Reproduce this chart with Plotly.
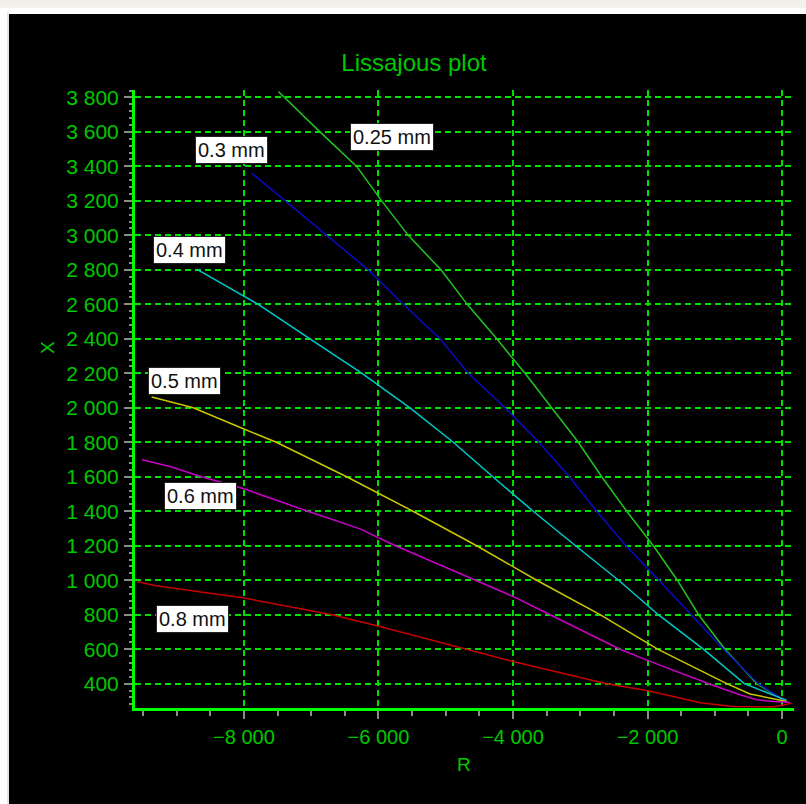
import plotly.graph_objects as go

# ---- data (R, X) per wire diameter ----
R_025 = [-7489, -6870, -6324, -5953, -5557, -5071, -4680, -4242, -3822, -3425, -3029, -2681, -2309, -1913, -1557, -1240, -848, -376, 20]
X_025 = [3834, 3600, 3400, 3200, 3000, 2800, 2600, 2400, 2200, 2000, 1800, 1600, 1400, 1200, 1000, 800, 600, 400, 305]

R_03 = [-7886, -7391, -6771, -6151, -5631, -5086, -4665, -4119, -3613, -3162, -2756, -2320, -1830, -1358, -873, -352, 20]
X_03 = [3361, 3200, 3000, 2800, 2600, 2400, 2200, 2000, 1800, 1600, 1400, 1200, 1000, 800, 600, 400, 307]

R_04 = [-8704, -7787, -7019, -6245, -5532, -4888, -4300, -3700, -3070, -2430, -1840, -1170, -560, 70]
X_04 = [2804, 2600, 2400, 2200, 2000, 1800, 1600, 1400, 1200, 1000, 800, 600, 400, 303]

R_05 = [-9372, -8755, -8000, -7519, -6473, -5487, -4540, -3648, -2706, -1850, -822, -476, 70]
X_05 = [2062, 2000, 1877, 1800, 1600, 1400, 1200, 1000, 800, 600, 400, 340, 297]

R_06 = [-9515, -9100, -8630, -8000, -7050, -6275, -5780, -4540, -4000, -3450, -2409, -2000, -1090, -625, -376, -129, 119]
X_06 = [1699, 1660, 1600, 1530, 1400, 1298, 1206, 1000, 906, 800, 600, 535, 400, 336, 307, 297, 292]

R_08 = [-9590, -9329, -8000, -6691, -5978, -4714, -4000, -2607, -2012, -1616, -1219, -724, -129, 144]
X_08 = [993, 970, 897, 800, 732, 600, 529, 400, 360, 326, 290, 268, 265, 287]

series_names = ["0.25 mm", "0.3 mm", "0.4 mm", "0.5 mm", "0.6 mm", "0.8 mm"]
series_R = [R_025, R_03, R_04, R_05, R_06, R_08]
series_X = [X_025, X_03, X_04, X_05, X_06, X_08]
series_colors = ["#22c322", "#0a0ac8", "#00c8c8", "#c8c800", "#c800c8", "#c80000"]

# label box positions (data coords)
label_pos = [(-5795, 3572), (-8184, 3497), (-8807, 2917), (-8881, 2158), (-8644, 1491), (-8763, 778)]

TXT = "#00c800"
FONT = "Liberation Sans, Arial, sans-serif"

fig = go.Figure()
for name, r, x, c in zip(series_names, series_R, series_X, series_colors):
    fig.add_trace(go.Scatter(x=r, y=x, mode="lines", name=name,
                             line=dict(color=c, width=1.5), showlegend=False))

annotations = []
for name, (lx, ly) in zip(series_names, label_pos):
    annotations.append(dict(x=lx, y=ly, xref="x", yref="y", text=name, showarrow=False,
                            xanchor="center", yanchor="middle",
                            font=dict(family=FONT, size=20, color="#111111"),
                            bgcolor="white", bordercolor="#222222", borderwidth=1, borderpad=2))

# axis titles
annotations.append(dict(x=-0.1335, y=0.5825, xref="paper", yref="paper", text="X", showarrow=False,
                        xanchor="center", yanchor="middle",
                        textangle=-90, font=dict(family=FONT, size=19, color=TXT)))
annotations.append(dict(x=0.4992, y=-0.0922, xref="paper", yref="paper", text="R", showarrow=False,
                        xanchor="center", yanchor="middle",
                        font=dict(family=FONT, size=19, color=TXT)))

shapes = [
    dict(type="rect", xref="paper", yref="paper", x0=-0.1912, x1=1.02, y0=-0.16, y1=1.1230,
         fillcolor="black", line=dict(width=0), layer="below"),
    dict(type="rect", xref="paper", yref="paper", x0=-0.21, x1=1.02, y0=1.133, y1=1.16,
         fillcolor="#f2f0eb", line=dict(width=0), layer="below"),
    dict(type="line", xref="paper", yref="paper", x0=-0.1927, x1=-0.1927, y0=-0.16, y1=1.125,
         line=dict(color="#c8c8c8", width=1), layer="below"),
]

axis_common = dict(
    showline=True, linecolor="#00ff00", linewidth=3, mirror=False,
    showgrid=True, gridcolor="#00e000", gridwidth=2, griddash="6px,4px",
    zeroline=False,
    ticks="outside", ticklen=8, tickcolor="#8a8a8a", tickwidth=2,
    tickformat=",d",
)

fig.update_xaxes(range=[-9620, 178], dtick=2000, tick0=0, ticklabelstandoff=1,
                 tickfont=dict(family=FONT, size=20, color=TXT),
                 minor=dict(dtick=500, ticks="outside", ticklen=5, tickcolor="#8a8a8a", tickwidth=2, showgrid=False),
                 **axis_common)
fig.update_yaxes(range=[259, 3843], dtick=200, tick0=0, ticklabelstandoff=1,
                 tickfont=dict(family=FONT, size=21, color=TXT),
                 minor=dict(dtick=40, ticks="outside", ticklen=3, tickcolor="#8a8a8a", tickwidth=2, showgrid=False),
                 **axis_common)

fig.update_layout(
    width=806, height=804,
    margin=dict(l=135, r=12, t=90, b=96),
    paper_bgcolor="white", plot_bgcolor="black",
    separators=". ",
    title=dict(text="Lissajous plot", x=414 / 806, xref="container", xanchor="center",
               y=1 - 63 / 804, yref="container", yanchor="middle",
               font=dict(family=FONT, size=24, color=TXT)),
    annotations=annotations, shapes=shapes,
    showlegend=False,
)

fig.write_html("out.html", config={"displayModeBar": False},
               post_script="document.body.style.margin='0';document.body.style.padding='0';")
